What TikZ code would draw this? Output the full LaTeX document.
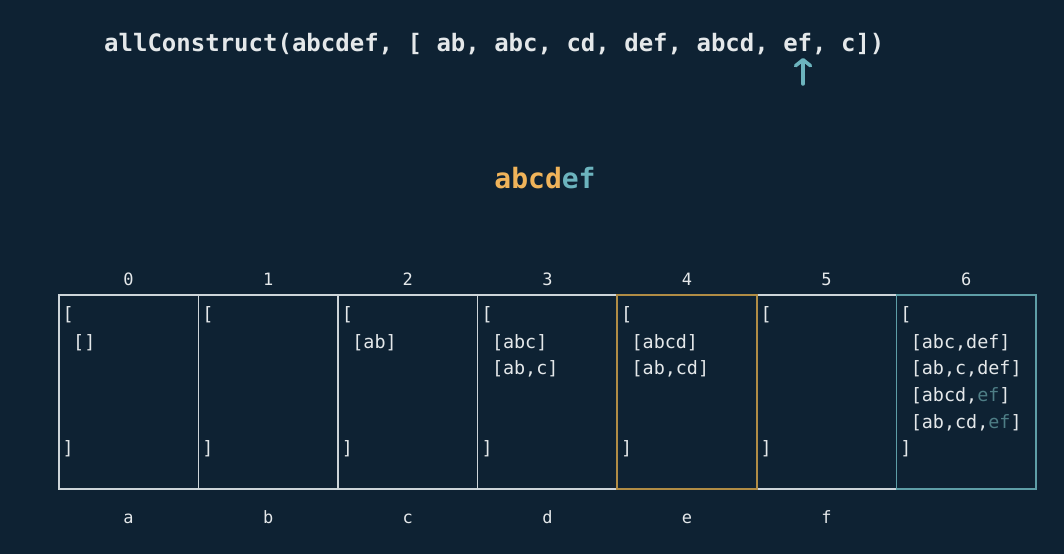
\documentclass[tikz,border=0pt]{standalone}
\usepackage{fontspec}
\setmonofont{DejaVu Sans Mono}
\usepackage{tikz}
\usetikzlibrary{arrows.meta}
\usetikzlibrary{positioning}
\definecolor{bgnavy}{HTML}{0E2233}
\definecolor{chalk}{HTML}{E4E8EA}
\definecolor{boxline}{HTML}{CDD5D9}
\definecolor{goldtext}{HTML}{F0B45A}
\definecolor{goldbox}{HTML}{B08C45}
\definecolor{tealtext}{HTML}{6CB4BE}
\definecolor{tealbox}{HTML}{5E9EA7}
\definecolor{tealdim}{HTML}{4E7E86}

\begin{document}
\begin{tikzpicture}[x=1pt,y=-1pt,
    cell/.style={draw=boxline, line width=1.6pt, minimum width=139.6pt, minimum height=194pt, anchor=north west, inner sep=0pt},
    code/.style={font=\ttfamily\fontsize{18.4}{26.7}\selectfont, text=chalk, inner sep=0pt, anchor=base west, align=left},
    idx/.style={font=\ttfamily\fontsize{17}{20}\selectfont, text=chalk, inner sep=0pt, text height=12pt, text depth=0pt},
    pointer/.style={draw=tealtext, line width=3.5pt, line cap=round, -{Straight Barb[length=6pt,width=15pt,round]}}]
                \path[use as bounding box, fill=bgnavy] (0,0) rectangle (1064,554);
                % the call being traced
                \node[font=\ttfamily\bfseries\fontsize{24}{28}\selectfont, text=chalk, inner sep=0pt, anchor=base west] (call) at (104,51) {allConstruct(abcdef, [ ab, abc, cd, def, abcd, ef, c])};
                \coordinate (ptrtail) at (803,84);
                \coordinate (ptrhead) at (803,58);
                \draw[pointer] (ptrtail) -- (ptrhead);
                \node[font=\ttfamily\bfseries\fontsize{28}{32}\selectfont, inner sep=0pt, anchor=base] (target) at (545,188) {\textcolor{goldtext}{abcd}\textcolor{tealtext}{ef}};
                % table cells
                \foreach \i/\col in {0/boxline,1/boxline,2/boxline,3/boxline,5/boxline,4/goldbox,6/tealbox}
                {
                    \node[cell, draw=\col] (c\i) at ({58+139.6*\i},294) {};
                    \node[idx, above=8pt of c\i] (n\i) {\i};
                    \node[code] (o\i) at ({58+139.6*\i+4.5},320.5) {[};
                    \node[code] (e\i) at ({58+139.6*\i+4.5},454) {]};
                }
                \foreach \i/\ch in {0/a,1/b,2/c,3/d,4/e,5/f}
                    \node[idx, below=22pt of c\i] (s\i) {\ch};
                % contents
                \node[code, anchor=north west] (l0) at (73,334) {[]};
                \node[code, anchor=north west] (l2) at (352.2,334) {[ab]};
                \node[code, anchor=north west] (l3) at (491.8,334) {[abc]\\{}[ab,c]};
                \node[code, anchor=north west] (l4) at (631.4,334) {[abcd]\\{}[ab,cd]};
                \node[code, anchor=north west] (l6) at (910.6,334) {[abc,def]\\{}[ab,c,def]\\{}[abcd,\textcolor{tealdim}{ef}]\\{}[ab,cd,\textcolor{tealdim}{ef}]};
            \end{tikzpicture}
\end{document}
